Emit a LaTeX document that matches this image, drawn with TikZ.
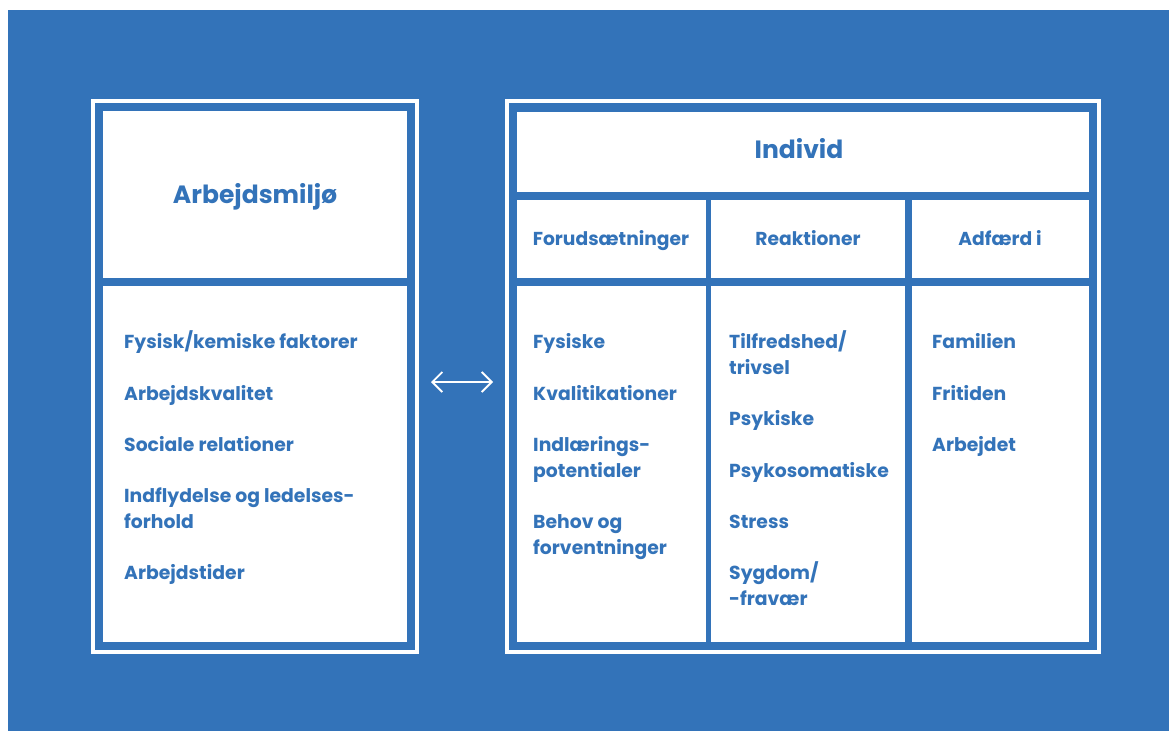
\documentclass[tikz,border=0pt]{standalone}
\usepackage{fontspec}
\setmainfont{Poppins}
\usetikzlibrary{arrows.meta}
\definecolor{panelblue}{RGB}{51,115,185}

\begin{document}
\begin{tikzpicture}[x=1pt,y=-1pt,
  cell/.style={fill=white, draw=none, inner sep=0pt, outer sep=0pt, anchor=north west},
  frame/.style={draw=white, line width=4pt, inner sep=0pt, outer sep=0pt, anchor=north west},
  txt/.style={inner sep=0pt, text=panelblue},
  item/.style={txt, anchor=base west, font=\bfseries\fontsize{18.8}{24}\selectfont},
  head/.style={txt, anchor=base, font=\bfseries\fontsize{18.7}{24}\selectfont},
  title/.style={txt, anchor=base, font=\bfseries\fontsize{25}{30}\selectfont},
  link/.style={draw=white, line width=1.8pt,
    {Straight Barb[length=10pt,width=20pt]}-{Straight Barb[length=10pt,width=20pt]}}]

% canvas
\useasboundingbox (0,0) rectangle (1169,731);
\fill[white] (0,0) rectangle (1169,731);
\fill[panelblue] (8,10) rectangle (1169,731);

% left panel: frame and cells
\node[frame, minimum width=324pt, minimum height=551pt] (lframe) at (93,101) {};
\node[cell, minimum width=304pt, minimum height=167pt] (lhead) at (103,111) {};
\node[cell, minimum width=304pt, minimum height=356pt] (lbody) at (103,286) {};

% right panel: frame and cells
\node[frame, minimum width=592pt, minimum height=551pt] (rframe) at (507,101) {};
\node[cell, minimum width=572pt, minimum height=80pt] (ihead) at (517,112) {};
\node[cell, minimum width=189pt, minimum height=78pt] (c1head) at (517,200) {};
\node[cell, minimum width=194pt, minimum height=78pt] (c2head) at (711,200) {};
\node[cell, minimum width=177pt, minimum height=78pt] (c3head) at (912,200) {};
\node[cell, minimum width=189pt, minimum height=356pt] (c1body) at (517,286) {};
\node[cell, minimum width=194pt, minimum height=356pt] (c2body) at (711,286) {};
\node[cell, minimum width=177pt, minimum height=356pt] (c3body) at (912,286) {};

% titles and column headers
\node[title] (tArb) at (255,203) {Arbejdsmiljø};
\node[title] (tInd) at (799,158) {Individ};
\node[head] (hForud) at (611,245) {Forudsætninger};
\node[head] (hReak) at (808,245) {Reaktioner};
\node[head] (hAdf) at (1000,245) {Adfærd i};

% left column items
\node[item] (a1) at (124,348.5) {Fysisk/kemiske faktorer};
\node[item] (a2) at (124,400.0) {Arbejdskvalitet};
\node[item] (a3) at (124,451.3) {Sociale relationer};
\node[item] (a4) at (124,502.7) {Indflydelse og ledelses-};
\node[item] (a4b) at (124,528.4) {forhold};
\node[item] (a5) at (124,579.8) {Arbejdstider};

% Forudsætninger
\node[item] (f1) at (533,348.5) {Fysiske};
\node[item] (f2) at (533,400.0) {Kvalitikationer};
\node[item] (f3) at (533,451.3) {Indlærings-};
\node[item] (f3b) at (533,477.0) {potentialer};
\node[item] (f4) at (533,528.4) {Behov og};
\node[item] (f4b) at (533,554.1) {forventninger};

% Reaktioner
\node[item] (r1) at (729,348.5) {Tilfredshed/};
\node[item] (r1b) at (729,374.2) {trivsel};
\node[item] (r2) at (729,425.6) {Psykiske};
\node[item] (r3) at (729,477.0) {Psykosomatiske};
\node[item] (r4) at (729,528.4) {Stress};
\node[item] (r5) at (729,579.8) {Sygdom/};
\node[item] (r5b) at (729,605.5) {-fravær};

% Adfærd i
\node[item] (d1) at (932,348.5) {Familien};
\node[item] (d2) at (932,400.0) {Fritiden};
\node[item] (d3) at (932,451.3) {Arbejdet};

% two-way link between the panels
\coordinate (arrL) at ([xshift=14pt]lframe.east |- 0,382);
\coordinate (arrR) at ([xshift=-14pt]rframe.west |- 0,382);
\draw[link] (arrL) -- (arrR);
\end{tikzpicture}
\end{document}
